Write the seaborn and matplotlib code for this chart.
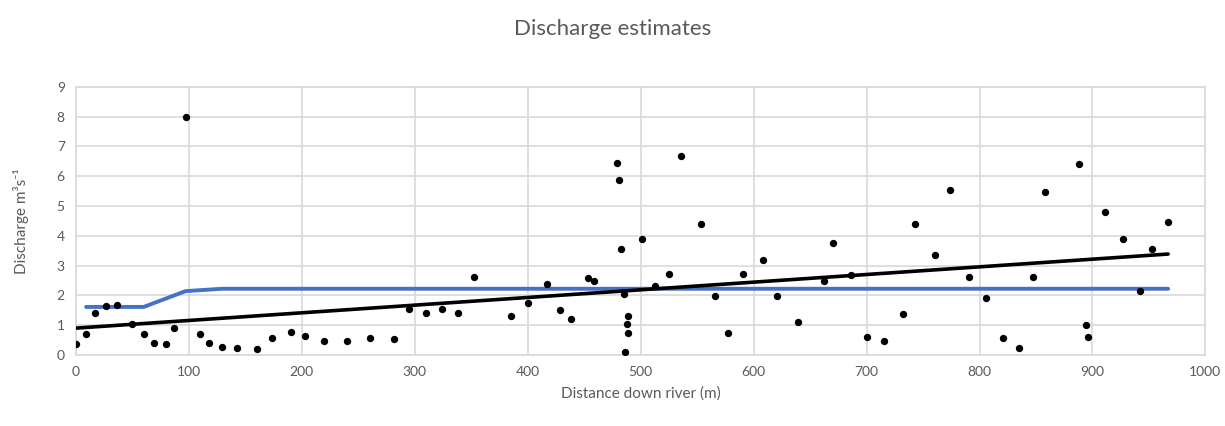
import numpy as np
import pandas as pd
import seaborn as sns
import matplotlib.pyplot as plt

# measured discharge points (distance m, discharge m3/s)
dist = [0, 9, 17, 27, 36, 50, 60, 69, 80, 87, 97, 110, 118, 129, 143, 160, 174, 190,
        203, 220, 240, 260, 282, 295, 310, 324, 338, 352, 385, 400, 417, 429, 438,
        453, 459, 479, 481, 483, 485, 489, 488, 489, 486, 501, 513, 525, 536, 553,
        566, 577, 591, 608, 621, 639, 662, 670, 686, 700, 715, 732, 743, 761, 774,
        791, 806, 821, 835, 847, 858, 888, 894, 896, 911, 927, 942, 953, 967]
discharge = [0.37, 0.69, 1.40, 1.65, 1.68, 1.03, 0.69, 0.40, 0.36, 0.89, 8.0, 0.69, 0.40,
             0.27, 0.22, 0.18, 0.56, 0.78, 0.65, 0.46, 0.46, 0.55, 0.52, 1.54, 1.41,
             1.55, 1.41, 2.62, 1.30, 1.74, 2.39, 1.50, 1.22, 2.58, 2.49, 6.44, 5.87,
             3.56, 2.06, 1.31, 1.03, 0.75, 0.09, 3.90, 2.30, 2.72, 6.68, 4.41, 1.97,
             0.75, 2.72, 3.19, 1.97, 1.09, 2.49, 3.76, 2.68, 0.61, 0.47, 1.36, 4.41,
             3.34, 5.55, 2.62, 1.92, 0.56, 0.22, 2.62, 5.46, 6.40, 0.99, 0.61, 4.80,
             3.90, 2.16, 3.57, 4.46]

# estimated discharge line
est_dist = [9, 60, 97, 129, 967]
est_discharge = [1.61, 1.61, 2.14, 2.22, 2.22]

pts = pd.DataFrame({'dist': dist, 'q': discharge})
est = pd.DataFrame({'dist': est_dist, 'q': est_discharge})

sns.set_style('white')
plt.rcParams['font.family'] = ['Lato', 'DejaVu Sans']

grey = '#595959'
gridc = '#d9d9d9'

fig = plt.figure(figsize=(12.25, 4.26), dpi=100)
ax = fig.add_axes([0.062, 0.167, 0.922, 0.629])

sns.lineplot(data=est, x='dist', y='q', sort=False, color='#4472C4', linewidth=2.8, ax=ax, zorder=3)
sns.regplot(data=pts, x='dist', y='q', scatter=False, ci=None, color='black',
            line_kws={'linewidth': 2.6, 'zorder': 4}, ax=ax)
sns.scatterplot(data=pts, x='dist', y='q', color='black', s=28, edgecolor='black',
                linewidth=0, ax=ax, zorder=5)

ax.set_xlim(0, 1000)
ax.set_ylim(0, 9)
ax.set_xticks(np.arange(0, 1001, 100))
ax.set_yticks(np.arange(0, 10, 1))
ax.grid(True, color=gridc, linewidth=1.2)
ax.set_axisbelow(True)
for s in ax.spines.values():
    s.set_color(gridc)
    s.set_linewidth(1.2)
ax.tick_params(length=0, labelsize=10, labelcolor=grey, pad=8)

ax.set_xlabel('Distance down river (m)', fontsize=11, color=grey, labelpad=6)
ax.set_ylabel('Discharge m³s⁻¹', fontsize=11, color=grey, labelpad=20)
fig.suptitle('Discharge estimates', fontsize=16, color=grey, y=0.955)

fig.savefig('out.png', dpi=100)
